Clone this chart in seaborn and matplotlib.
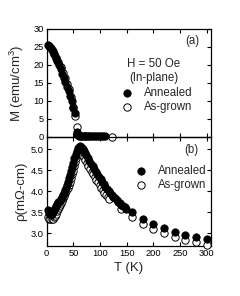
import matplotlib
matplotlib.use("Agg")
import matplotlib.pyplot as plt
import seaborn as sns

# ---- (a) magnetisation, H = 50 Oe in-plane ----
m_ann_T = [2, 5, 8, 11, 14, 17, 20, 23, 26, 29, 32, 35, 38, 41, 44, 47, 50, 53,
           56, 57.5, 59, 61, 63, 65, 67, 69, 71, 74, 77, 80, 83, 86, 90, 94, 98, 102, 106, 110]
m_ann_M = [25.6, 25.3, 24.7, 23.9, 23.0, 22.0, 21.0, 19.9, 18.8, 17.6, 16.4, 15.2, 14.0, 12.7, 11.3, 9.9, 8.4, 6.8,
           1.3, 0.8, 0.5, 0.4, 0.3, 0.3, 0.3, 0.2, 0.2, 0.2, 0.2, 0.2, 0.2, 0.2, 0.2, 0.2, 0.2, 0.2, 0.2, 0.2]
m_asg_T = [5, 9.5, 14, 18, 22, 26, 30, 34, 38, 42, 46, 50, 53.7, 57.4, 123]
m_asg_M = [25.3, 24.3, 23.1, 22.0, 20.8, 19.4, 17.9, 16.4, 14.8, 13.2, 11.2, 8.0, 5.8, 2.9, 0.0]

# ---- (b) resistivity ----
r_ann_T = [2, 4, 6, 8, 10, 12, 14, 16, 18, 20, 22, 24, 26, 28, 30, 32, 34, 36, 38, 40,
           42, 44, 46, 48, 50, 52, 54, 56, 58, 60, 62, 64, 66, 68, 70, 72, 74, 77, 80, 83,
           86, 89, 92, 95, 98, 101, 104, 107, 110, 113, 116, 119, 122, 125, 128, 131, 134,
           137, 140, 143, 146, 149, 160, 180, 200, 220, 240, 260, 280, 300]
r_ann_R = [3.55, 3.49, 3.45, 3.44, 3.46, 3.50, 3.55, 3.60, 3.65, 3.69, 3.74, 3.78, 3.82, 3.87, 3.92, 3.97, 4.03, 4.09, 4.16, 4.23,
           4.31, 4.39, 4.48, 4.58, 4.68, 4.79, 4.88, 4.96, 5.03, 5.06, 5.07, 5.06, 5.03, 5.00, 4.96, 4.92, 4.87, 4.80, 4.73, 4.66,
           4.59, 4.53, 4.47, 4.41, 4.35, 4.29, 4.23, 4.17, 4.11, 4.06, 4.01, 3.96, 3.91, 3.87, 3.83, 3.79, 3.75,
           3.72, 3.68, 3.65, 3.62, 3.59, 3.51, 3.34, 3.22, 3.12, 3.04, 2.97, 2.91, 2.87]
r_asg_T = [3, 5, 7, 9, 11, 13, 15, 17, 19, 21, 23, 25, 27, 29, 31, 33, 35, 37, 39, 41,
           43, 45, 47, 49, 51, 53, 55, 57, 59, 61, 63, 66, 69, 72, 75, 78, 81, 84, 87, 90,
           93, 96, 99, 102, 105, 108, 111, 114, 117, 140, 160, 180, 200, 220, 240, 260, 280, 300]
r_asg_R = [3.40, 3.35, 3.33, 3.33, 3.35, 3.38, 3.42, 3.47, 3.52, 3.57, 3.62, 3.67, 3.72, 3.77, 3.83, 3.89, 3.95, 4.01, 4.08, 4.15,
           4.23, 4.31, 4.40, 4.49, 4.60, 4.70, 4.79, 4.86, 4.92, 4.94, 4.92, 4.87, 4.81, 4.75, 4.68, 4.61, 4.54, 4.47, 4.40, 4.34,
           4.28, 4.21, 4.15, 4.09, 4.03, 3.97, 3.92, 3.86, 3.81, 3.57, 3.38, 3.22, 3.10, 3.00, 2.92, 2.84, 2.79, 2.73]

x_ticks = [0, 50, 100, 150, 200, 250, 300]
m_ticks = [0, 5, 10, 15, 20, 25, 30]
r_ticks = [3.0, 3.5, 4.0, 4.5, 5.0]

sns.set_style("ticks")
plt.rcParams["font.family"] = ["Liberation Sans", "DejaVu Sans"]
plt.rcParams["mathtext.fontset"] = "custom"
plt.rcParams["mathtext.rm"] = "Liberation Sans"
plt.rcParams["mathtext.it"] = "Liberation Sans"

W, H = 240, 296
fig = plt.figure(figsize=(W / 100, H / 100), dpi=100)
x0, x1 = 46.7, 211.0
ax_a = fig.add_axes([x0 / W, 1 - 137 / H, (x1 - x0) / W, 108 / H])
ax_b = fig.add_axes([x0 / W, 1 - 246 / H, (x1 - x0) / W, 109 / H])

ms = 28
filled = dict(color="black", edgecolor="black", linewidth=0.6, s=ms, clip_on=False)
hollow = dict(color="white", edgecolor="black", linewidth=0.7, s=ms, clip_on=False)

# open symbols sit behind the filled ones in both panels
sns.scatterplot(x=m_asg_T, y=m_asg_M, ax=ax_a, label="As-grown", zorder=3, **hollow)
sns.scatterplot(x=m_ann_T, y=m_ann_M, ax=ax_a, label="Annealed", zorder=4, **filled)

sns.scatterplot(x=r_asg_T, y=r_asg_R, ax=ax_b, label="As-grown", zorder=3, **hollow)
sns.scatterplot(x=r_ann_T, y=r_ann_R, ax=ax_b, label="Annealed", zorder=4, **filled)

for ax in (ax_a, ax_b):
    ax.set_xlim(0, 308)
    ax.set_xticks(x_ticks)
    ax.tick_params(direction="in", top=True, right=True, length=3, width=0.8,
                   labelsize=6.7, pad=2, colors="black")
    for sp in ax.spines.values():
        sp.set_linewidth(0.9)
        sp.set_color("black")
    ax.set_facecolor("none")

ax_a.set_ylim(0, 30)
ax_a.set_yticks(m_ticks)
ax_a.tick_params(labelbottom=False)
ax_a.set_xlabel("")
ax_a.set_ylabel("M (emu/cm$^3$)", fontsize=9.5, labelpad=5)

ax_b.set_ylim(2.70, 5.29)
ax_b.set_yticks(r_ticks)
ax_b.set_yticklabels([f"{v:.1f}" for v in r_ticks])
ax_b.set_xlabel("T (K)", fontsize=9.5, labelpad=3)
ax_b.set_ylabel("\u03c1(m\u03a9-cm)", fontsize=9.5, labelpad=3)

txt = dict(fontsize=8.3, ha="center", va="center")
ax_a.text(0.887, 0.892, "(a)", transform=ax_a.transAxes, **txt)
ax_a.text(0.65, 0.676, "H = 50 Oe", transform=ax_a.transAxes, **txt)
ax_a.text(0.65, 0.546, "(In-plane)", transform=ax_a.transAxes, **txt)
ax_b.text(0.879, 0.881, "(b)", transform=ax_b.transAxes, **txt)

leg_kw = dict(frameon=False, fontsize=8.3, handlelength=1.0, handletextpad=0.9,
              labelspacing=0.2, borderpad=0, borderaxespad=0, loc="center left")


def legend_in_order(ax, anchor):
    h, l = ax.get_legend_handles_labels()
    order = [l.index("Annealed"), l.index("As-grown")]
    ax.legend([h[i] for i in order], [l[i] for i in order],
              bbox_to_anchor=anchor, **leg_kw)


legend_in_order(ax_a, (0.456, 0.34))
legend_in_order(ax_b, (0.541, 0.621))

fig.savefig("out.png", dpi=100)
